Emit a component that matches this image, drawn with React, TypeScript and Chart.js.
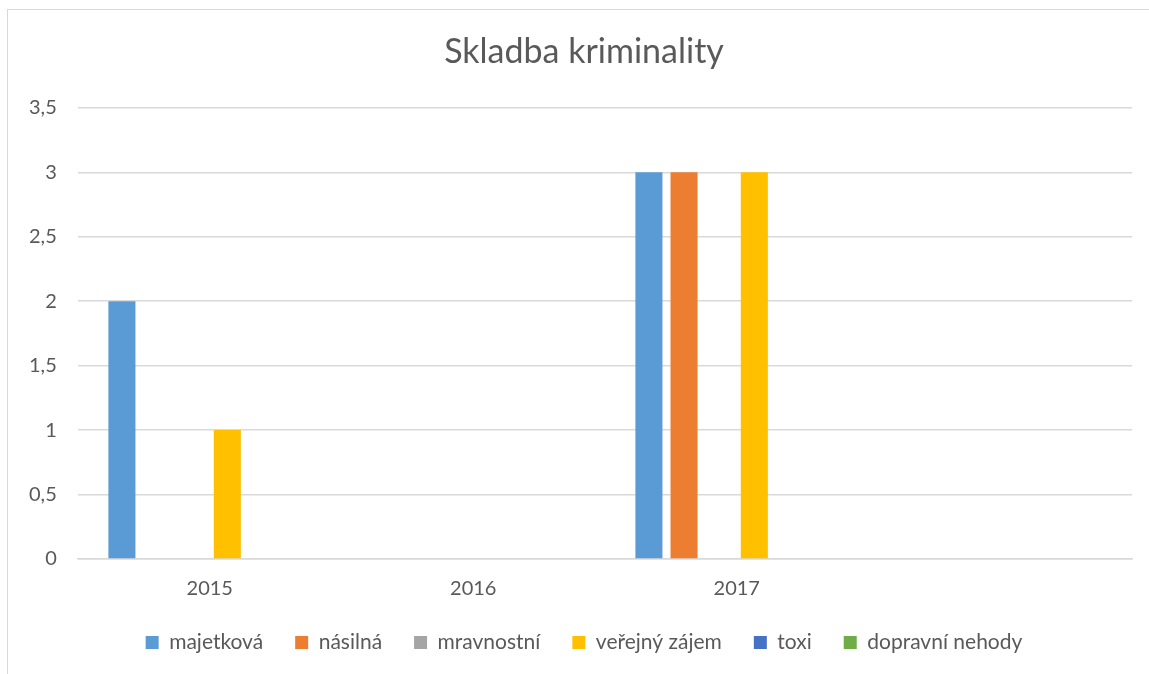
import React, { useEffect, useRef } from "react";
import { Chart, registerables } from "chart.js";

Chart.register(...registerables);

const categories = ["2015", "2016", "2017", ""];
const seriesNames = ["majetková", "násilná", "mravnostní", "veřejný zájem", "toxi", "dopravní nehody"];
const majetkova = [2, 0, 3, 0];
const nasilna = [0, 0, 3, 0];
const mravnostni = [0, 0, 0, 0];
const verejnyZajem = [1, 0, 3, 0];
const toxi = [0, 0, 0, 0];
const dopravniNehody = [0, 0, 0, 0];
const seriesColors = ["#5B9BD5", "#ED7D31", "#A5A5A5", "#FFC000", "#4472C4", "#70AD47"];
const yTicks = [0, 0.5, 1, 1.5, 2, 2.5, 3, 3.5];

const FONT = "Lato, 'Open Sans', sans-serif";
const TEXT = "#595959";
const GRID = "#D9D9D9";

export default function App() {
  const ref = useRef<HTMLCanvasElement | null>(null);

  useEffect(() => {
    if (!ref.current) return;
    const values = [majetkova, nasilna, mravnostni, verejnyZajem, toxi, dopravniNehody];
    const chart = new Chart(ref.current, {
      type: "bar",
      data: {
        labels: categories,
        datasets: seriesNames.map((name, i) => ({
          label: name,
          data: values[i],
          backgroundColor: seriesColors[i],
          borderWidth: 0,
          categoryPercentage: 0.8,
          barPercentage: 0.77,
        })),
      },
      options: {
        animation: false,
        responsive: false,
        maintainAspectRatio: false,
        layout: { padding: { left: 36, right: 17, top: 32, bottom: 11 } },
        plugins: {
          title: {
            display: true,
            text: "Skladba kriminality",
            color: TEXT,
            font: { family: FONT, size: 34, weight: "normal" },
            padding: { top: 0, bottom: 35 },
          },
          legend: {
            position: "bottom",
            labels: {
              color: TEXT,
              font: { family: FONT, size: 21 },
              boxWidth: 13,
              boxHeight: 13,
              padding: 32,
            },
          },
          tooltip: { enabled: false },
        },
        scales: {
          x: {
            grid: { display: false, drawTicks: false },
            border: { display: true, color: GRID, width: 1.5 },
            ticks: { color: TEXT, font: { family: FONT, size: 20 }, padding: 18 },
            afterFit: (s: any) => {
              s.height = 41;
            },
          },
          y: {
            min: 0,
            max: 3.5,
            afterBuildTicks: (s: any) => {
              s.ticks = yTicks.map((v) => ({ value: v }));
            },
            grid: { color: GRID, lineWidth: 1.5, drawTicks: false },
            border: { display: false },
            ticks: {
              color: TEXT,
              font: { family: FONT, size: 20 },
              mirror: true,
              crossAlign: "far",
              padding: -49,
              callback: (v: any) => String(v).replace(".", ","),
            },
            afterFit: (s: any) => {
              s.width = 42;
            },
          },
        },
      },
    });
    return () => chart.destroy();
  }, []);

  return (
    <div style={{ position: "absolute", left: 0, top: 0, width: 1149, height: 674, overflow: "hidden", background: "#fff" }}>
      <canvas ref={ref} width={1149} height={674} style={{ position: "absolute", left: 0, top: 0 }} />
      <div
        style={{
          position: "absolute",
          left: 7,
          top: 9,
          width: 1200,
          height: 700,
          borderLeft: "1.5px solid #D9D9D9",
          borderTop: "1.5px solid #D9D9D9",
          pointerEvents: "none",
        }}
      />
    </div>
  );
}
